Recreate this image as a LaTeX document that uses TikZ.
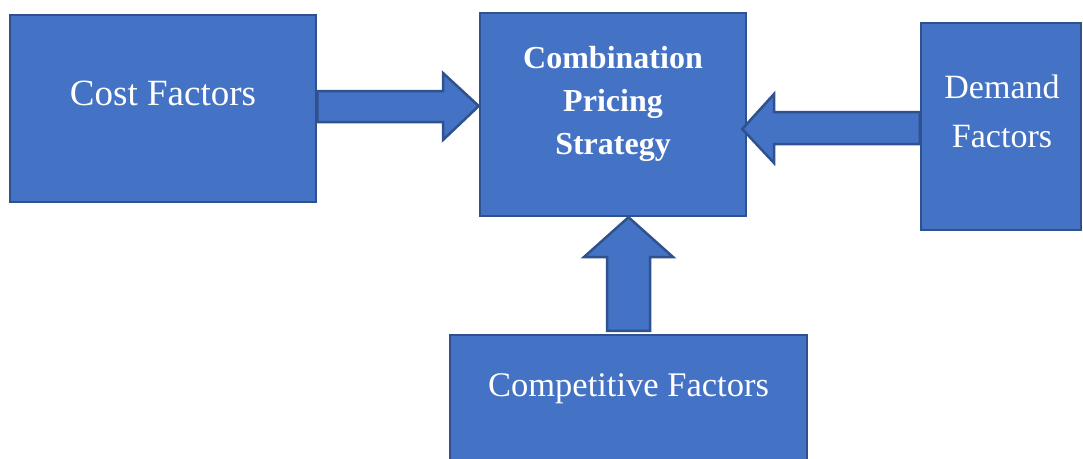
\documentclass[tikz,border=0pt]{standalone}
\usepackage{fontspec}
\setmainfont{Liberation Serif}
\usetikzlibrary{positioning, calc}
\definecolor{boxblue}{HTML}{4472C4}
\definecolor{edgeblue}{HTML}{2F528F}

\begin{document}
\begin{tikzpicture}[x=1pt, y=-1pt,
  box/.style={rectangle, draw=edgeblue, fill=boxblue, line width=2.5pt, inner sep=0pt},
  fat/.style={draw=edgeblue, fill=boxblue, line width=2.5pt, line join=miter},
  label/.style={text=white, align=center, anchor=base, inner sep=0pt}]
\clip (0,0) rectangle (1083,458);

% the four blocks
\node[box, minimum width=306pt, minimum height=187pt] (cost) at (163,108.5) {};
\node[box, minimum width=266pt, minimum height=203pt] (strat) at (613,114.5) {};
\node[box, minimum width=160pt, minimum height=207pt] (demand) at (1001,126.5) {};
\node[box, minimum width=357pt, minimum height=140pt] (comp) at (628.5,405) {};

% texts, placed at the baseline of their last line
\node[label, font=\fontsize{37}{44}\selectfont] (costtxt) at (163,105) {Cost Factors};
\node[label, font=\bfseries\fontsize{32}{43}\selectfont] (strattxt) at (613,154) {Combination\\Pricing\\Strategy};
\node[label, font=\fontsize{34}{49}\selectfont] (demandtxt) at (1002,147) {Demand\\Factors};
\node[label, font=\fontsize{34.5}{41}\selectfont] (comptxt) at (628.5,396) {Competitive Factors};

% block arrows into the strategy box
\draw[fat] (cost.east |- 0,91) -- (443,91) -- (443,73) -- (strat.west |- 0,106)
  -- (443,140) -- (443,122) -- (cost.east |- 0,122) -- cycle;
\draw[fat] (demand.west |- 0,112) -- (774,112) -- (774,94) -- ($(strat.east |- 0,129)+(-5,0)$)
  -- (774,163) -- (774,144) -- (demand.west |- 0,144) -- cycle;
\draw[fat] ($(comp.north -| 607,0)+(0,-3)$) -- (607,257) -- (584,257) -- (strat.south -| comp.north)
  -- (673,257) -- (650,257) -- ($(comp.north -| 650,0)+(0,-3)$) -- cycle;

\end{tikzpicture}
\end{document}
